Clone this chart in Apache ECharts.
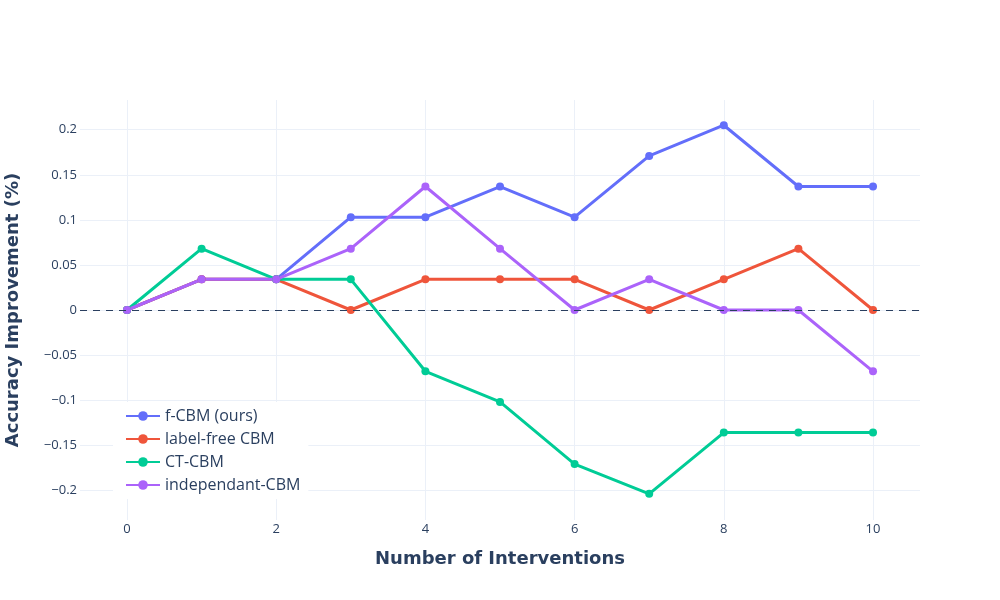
<!DOCTYPE html>
<html>
<head>
<meta charset="utf-8">
<script src="https://cdn.jsdelivr.net/npm/echarts@6/dist/echarts.min.js"></script>
<style>html,body{margin:0;padding:0;background:#fff}#c{width:1000px;height:600px}</style>
</head>
<body>
<div id="c"></div>
<script>
const interventions = [0,1,2,3,4,5,6,7,8,9,10];
const fCBM = [0,0.034,0.034,0.103,0.103,0.137,0.103,0.171,0.205,0.137,0.137];
const labelFree = [0,0.034,0.034,0,0.034,0.034,0.034,0,0.034,0.068,0];
const ctCBM = [0,0.068,0.034,0.034,-0.068,-0.102,-0.171,-0.204,-0.136,-0.136,-0.136];
const indepCBM = [0,0.034,0.034,0.068,0.137,0.068,0,0.034,0,0,-0.068];
const xTicks = [0,2,4,6,8,10];
const yTicks = [-0.2,-0.15,-0.1,-0.05,0,0.05,0.1,0.15,0.2];
const seriesNames = ['f-CBM (ours)','label-free CBM','CT-CBM','independant-CBM'];
const colors = ['#636efa','#EF553B','#00cc96','#ab63fa'];
const allData = [fCBM, labelFree, ctCBM, indepCBM];

const font = '"Open Sans", verdana, arial, sans-serif';
const chart = echarts.init(document.getElementById('c'), null, {renderer:'canvas'});
const series = allData.map((d,i)=>({
  name: seriesNames[i],
  type: 'line',
  data: interventions.map((x,j)=>[x,d[j]]),
  symbol: 'circle',
  symbolSize: 8,
  showSymbol: true,
  lineStyle: {width: 3, color: colors[i]},
  itemStyle: {color: colors[i]},
  z: 3
}));
series.push({
  name: 'zero',
  type: 'line',
  data: [],
  markLine: {
    silent: true,
    symbol: 'none',
    label: {show: false},
    lineStyle: {type: [7,6], color: '#2a3f5f', width: 1},
    data: [{yAxis: 0}]
  },
  z: 2
});
chart.setOption({
  backgroundColor: '#fff',
  animation: false,
  color: colors,
  grid: {left: 80, right: 80, top: 100, bottom: 80, containLabel: false, outerBoundsMode: 'none'},
  legend: {
    data: seriesNames,
    orient: 'vertical',
    left: 113, top: 402,
    backgroundColor: '#fff',
    padding: [6,8,6,12],
    itemWidth: 34, itemHeight: 12,
    itemGap: 7,
    textStyle: {fontFamily: font, fontSize: 16, color: '#2a3f5f'}
  },
  xAxis: {
    type: 'value',
    min: -0.63, max: 10.63,
    interval: 0.01,
    name: 'Number of Interventions',
    nameLocation: 'middle',
    nameGap: 30,
    nameTextStyle: {fontFamily: 'DejaVu Sans', fontWeight: 'bold', fontSize: 18, color: '#2a3f5f'},
    axisLine: {show: false},
    axisTick: {show: false, customValues: xTicks},
    axisLabel: {customValues: xTicks, fontFamily: font, fontSize: 13, color: '#2a3f5f', margin: 3},
    splitLine: {show: true, lineStyle: {color: '#EBF0F8', width: 1}}
  },
  yAxis: {
    type: 'value',
    min: -0.233, max: 0.233,
    interval: 0.001,
    name: 'Accuracy Improvement (%)',
    nameLocation: 'middle',
    nameGap: 58,
    nameTextStyle: {fontFamily: 'DejaVu Sans', fontWeight: 'bold', fontSize: 18, color: '#2a3f5f'},
    axisLine: {show: false},
    axisTick: {show: false, customValues: yTicks},
    axisLabel: {customValues: yTicks, fontFamily: font, fontSize: 13, color: '#2a3f5f', margin: 3,
      formatter: v => String(Math.round(v*100)/100).replace('-', '\u2212')},
    splitLine: {show: true, lineStyle: {color: '#EBF0F8', width: 1}}
  },
  series: series
});
</script>
</body>
</html>
